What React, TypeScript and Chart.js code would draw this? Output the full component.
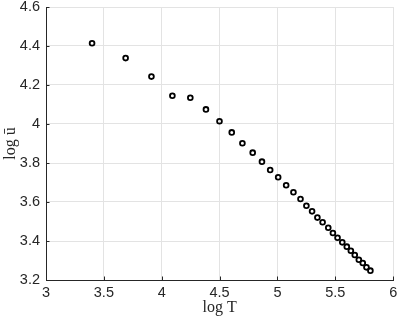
import React, { useEffect, useRef } from "react";
import { Chart, registerables } from "chart.js";

Chart.register(...registerables);

const logT = [
  3.398, 3.688, 3.911, 4.092, 4.247, 4.382, 4.499, 4.605, 4.697, 4.786, 4.866,
  4.937, 5.006, 5.075, 5.138, 5.199, 5.25, 5.299, 5.345, 5.39, 5.439, 5.479,
  5.519, 5.56, 5.599, 5.634, 5.668, 5.703, 5.737, 5.769, 5.803,
];
const logU = [
  4.414, 4.338, 4.243, 4.145, 4.135, 4.075, 4.014, 3.957, 3.901, 3.853, 3.807,
  3.764, 3.727, 3.686, 3.65, 3.615, 3.581, 3.552, 3.52, 3.496, 3.468, 3.441,
  3.417, 3.393, 3.371, 3.35, 3.328, 3.304, 3.287, 3.265, 3.248,
];
const xTicks = [3, 3.5, 4, 4.5, 5, 5.5, 6];
const yTicks = [3.2, 3.4, 3.6, 3.8, 4, 4.2, 4.4, 4.6];
const xTitle = "log T";
const yTitle = "log ū";

const AXIS = "#262626";

const inwardTicks = {
  id: "inwardTicks",
  afterDraw(chart: any) {
    const { ctx, chartArea, scales } = chart;
    ctx.save();
    ctx.strokeStyle = AXIS;
    ctx.lineWidth = 1;
    ctx.beginPath();
    for (const v of xTicks) {
      const px = Math.round(scales.x.getPixelForValue(v)) + 0.5;
      ctx.moveTo(px, chartArea.bottom);
      ctx.lineTo(px, chartArea.bottom - 3.5);
    }
    for (const v of yTicks) {
      const py = Math.round(scales.y.getPixelForValue(v)) + 0.5;
      ctx.moveTo(chartArea.left, py);
      ctx.lineTo(chartArea.left + 3.5, py);
    }
    ctx.stroke();
    ctx.restore();
  },
};

export default function App() {
  const ref = useRef<HTMLCanvasElement | null>(null);
  useEffect(() => {
    if (!ref.current) return;
    const chart = new Chart(ref.current, {
      type: "scatter",
      data: {
        datasets: [
          {
            data: logT.map((x, i) => ({ x, y: logU[i] })),
            pointStyle: "circle",
            pointRadius: 2.4,
            pointBorderWidth: 1.8,
            pointBorderColor: "#000",
            pointBackgroundColor: "rgba(0,0,0,0)",
            showLine: false,
          },
        ],
      },
      options: {
        responsive: false,
        animation: false,
        layout: { padding: { top: 7, right: 1, left: 0, bottom: 0 } },
        plugins: { legend: { display: false }, tooltip: { enabled: false } },
        scales: {
          x: {
            type: "linear",
            min: 3,
            max: 6,
            afterFit: (s: any) => {
              s.height = 38;
              s.paddingLeft = 0;
              s.paddingRight = 0;
            },
            afterBuildTicks: (s: any) => {
              s.ticks = xTicks.map((v) => ({ value: v }));
            },
            ticks: {
              color: AXIS,
              font: { family: "'Liberation Sans', Arial, sans-serif", size: 14.5 },
              padding: 4,
              maxRotation: 0,
              callback: (v: any) => String(Number(Number(v).toFixed(2))),
            },
            grid: { color: "#e3e3e3", drawTicks: false, lineWidth: 1 },
            border: { display: true, color: AXIS, width: 1 },
            title: {
              display: true,
              text: xTitle,
              color: AXIS,
              font: { family: "'Liberation Serif', 'DejaVu Serif', serif", size: 16 },
              padding: { top: 0, bottom: 1 },
            },
          },
          y: {
            type: "linear",
            min: 3.2,
            max: 4.6,
            afterFit: (s: any) => {
              s.width = 46;
              s.paddingTop = 0;
              s.paddingBottom = 0;
            },
            afterBuildTicks: (s: any) => {
              s.ticks = yTicks.map((v) => ({ value: v }));
            },
            ticks: {
              color: AXIS,
              font: { family: "'Liberation Sans', Arial, sans-serif", size: 14.5 },
              padding: 6,
              callback: (v: any) => String(Number(Number(v).toFixed(2))),
            },
            grid: { color: "#e3e3e3", drawTicks: false, lineWidth: 1 },
            border: { display: true, color: AXIS, width: 1 },
            title: {
              display: true,
              text: yTitle,
              color: AXIS,
              font: { family: "'Liberation Serif', 'DejaVu Serif', serif", size: 16 },
              padding: { top: 1, bottom: 0 },
            },
          },
        },
      },
      plugins: [inwardTicks],
    });
    return () => chart.destroy();
  }, []);
  return (
    <div style={{ position: "fixed", left: 0, top: 0, width: 399, height: 318, background: "#fff" }}>
      <canvas ref={ref} width={399} height={318} style={{ width: 399, height: 318, display: "block" }} />
    </div>
  );
}
